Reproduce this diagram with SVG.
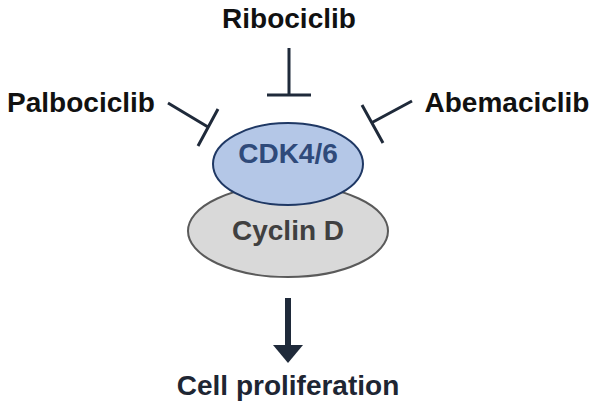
<svg xmlns="http://www.w3.org/2000/svg" width="600" height="410" viewBox="0 0 600 410">
<style>
.lbl{font-family:"Liberation Sans",Arial,sans-serif;font-weight:bold;font-size:28px;fill:#111;text-anchor:middle}
.inh{stroke:#1f2a3a;stroke-width:3;fill:none;stroke-linecap:butt}
</style>
<rect width="600" height="410" fill="#fff"/>
<g id="cyclinD">
<ellipse cx="288" cy="231" rx="100" ry="46" fill="#d9d9d9" stroke="#5a5a5a" stroke-width="2"/>
<text class="lbl" x="288" y="240" style="fill:#404040">Cyclin D</text>
</g>
<g id="cdk46">
<ellipse cx="288" cy="164" rx="75" ry="41" fill="#b4c7e7" stroke="#1f3864" stroke-width="2"/>
<text class="lbl" x="288" y="163" style="fill:#2f4a7a">CDK4/6</text>
</g>
<g id="ribociclib"><text class="lbl" x="289" y="28">Ribociclib</text></g>
<g id="palbociclib"><text class="lbl" x="81" y="112">Palbociclib</text></g>
<g id="abemaciclib"><text class="lbl" x="507" y="112">Abemaciclib</text></g>
<g id="proliferation"><text class="lbl" x="288" y="395" style="fill:#1e2633">Cell proliferation</text></g>
<g id="connectors">
<path class="inh" d="M289 48V95M267 95H311"/>
<path class="inh" d="M168 103L208 127M218 109L198 146"/>
<path class="inh" d="M412 101L373 122M362 105L383 143"/>
<path d="M288 298V346" stroke="#1f2a3a" stroke-width="6"/>
<path d="M273 345H303L288 363Z" fill="#1f2a3a"/>
</g>
</svg>
